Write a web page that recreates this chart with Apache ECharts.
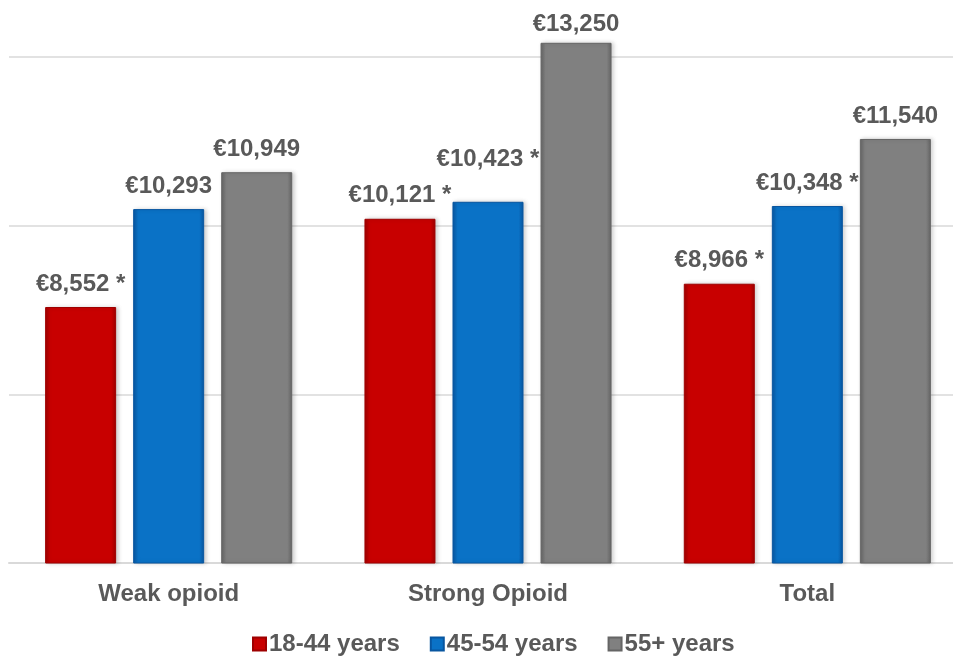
<!DOCTYPE html>
<html>
<head>
<meta charset="utf-8">
<script src="https://cdn.jsdelivr.net/npm/echarts@6/dist/echarts.min.js"></script>
<style>html,body{margin:0;padding:0;background:#fff;overflow:hidden;width:953px;height:656px;}#c{width:972px;height:656px;}</style>
</head>
<body>
<div id="c"></div>
<script>
var categories = ['Weak opioid', 'Strong Opioid', 'Total'];
var seriesNames = ['18-44 years', '45-54 years', '55+ years'];
var values1844 = [8552, 10121, 8966];
var values4554 = [10293, 10423, 10348];
var values55 = [10949, 13250, 11540];
var labels1844 = ['€8,552 *', '€10,121 *', '€8,966 *'];
var labels4554 = ['€10,293', '€10,423 *', '€10,348 *'];
var labels55 = ['€10,949', '€13,250', '€11,540'];
var yMin = 4000, yMax = 13300, yStep = 3000;

var textColor = '#595959';
var font = 'Liberation Sans, Arial, sans-serif';

function grad(dark, base) {
  return {
    type: 'linear', x: 0, y: 0, x2: 1, y2: 0,
    colorStops: [
      {offset: 0, color: dark},
      {offset: 0.07, color: base},
      {offset: 0.93, color: base},
      {offset: 1, color: dark}
    ]
  };
}
var styles = [
  {base: '#c80000', dark: '#9e0000'},
  {base: '#0a72c6', dark: '#0856a0'},
  {base: '#808080', dark: '#656565'}
];
var allValues = [values1844, values4554, values55];
var allLabels = [labels1844, labels4554, labels55];
var offsets = [
  [[0,0],[0,0],[0,0]],
  [[0,0],[0,-19],[0,0]],
  [[0,0],[0,5],[0,0]]
];

var series = seriesNames.map(function (name, i) {
  var st = styles[i];
  return {
    name: name,
    type: 'bar',
    barWidth: 71,
    barGap: '24%',
    itemStyle: {
      color: grad(st.dark, st.base),
      borderColor: st.dark,
      borderWidth: 1,
      shadowColor: 'rgba(0,0,0,0.18)',
      shadowBlur: 4,
      shadowOffsetX: 2,
      shadowOffsetY: 0
    },
    data: allValues[i].map(function (v, j) {
      return {
        value: v,
        label: {offset: offsets[i][j], formatter: allLabels[i][j]}
      };
    }),
    label: {
      show: true,
      position: 'top',
      distance: 11,
      color: textColor,
      fontFamily: font,
      fontWeight: 'bold',
      fontSize: 24
    }
  };
});

var chart = echarts.init(document.getElementById('c'), null, {renderer: 'canvas'});
chart.setOption({
  animation: false,
  backgroundColor: '#ffffff',
  color: styles.map(function (s) { return s.base; }),
  grid: {left: 9, width: 958, top: 40, bottom: 93, containLabel: false},
  legend: {
    top: 627,
    left: 247,
    itemWidth: 13,
    itemHeight: 13,
    itemGap: 30,
    icon: 'rect',
    textStyle: {color: textColor, fontFamily: font, fontWeight: 'bold', fontSize: 24, padding: [0, 0, 0, -2]},
    data: seriesNames
  },
  xAxis: {
    type: 'category',
    data: categories,
    axisLine: {show: true, lineStyle: {color: '#d9d9d9', width: 2}},
    axisTick: {show: false},
    axisLabel: {color: textColor, fontFamily: font, fontWeight: 'bold', fontSize: 24, margin: 19}
  },
  yAxis: {
    type: 'value',
    min: yMin,
    max: yMax,
    interval: yStep,
    axisLine: {show: false},
    axisTick: {show: false},
    axisLabel: {show: false},
    splitLine: {showMaxLine: false, showMinLine: false, lineStyle: {color: '#d9d9d9', width: 1.5}}
  },
  series: series
});
</script>
</body>
</html>
